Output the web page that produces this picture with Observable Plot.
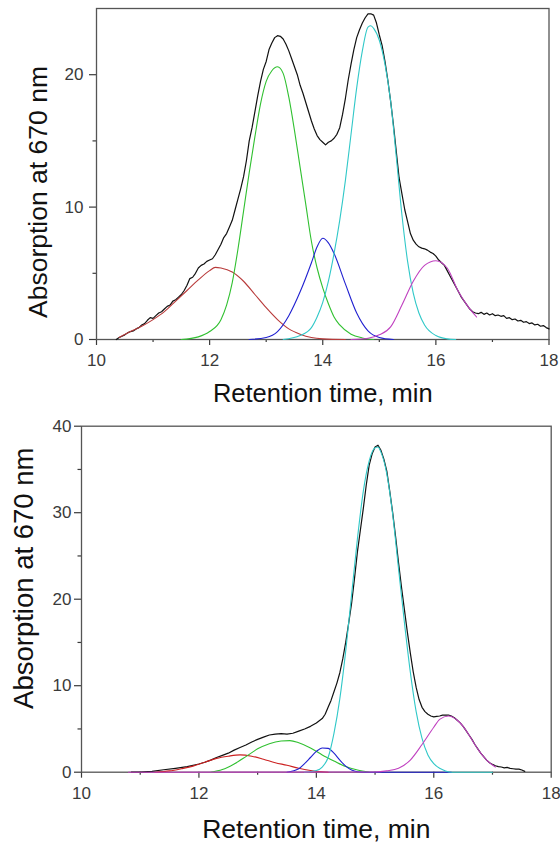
<!DOCTYPE html>
<html><head><meta charset="utf-8">
<script src="https://cdn.jsdelivr.net/npm/d3@7"></script>
<script src="https://cdn.jsdelivr.net/npm/@observablehq/plot@0.6"></script>
<style>
html,body{margin:0;padding:0;background:#fff;}
#chart svg{display:block;}
</style></head><body><div id="chart"></div>
<script>
// ---------- text & ticks ----------
const xTitle = "Retention time, min";
const yTitle = "Absorption at 670 nm";
const xTicks = [10, 12, 14, 16, 18];
const xMinor = [11, 13, 15, 17];
const topYTicks = [0, 10, 20];
const topYMinor = [5, 15];
const botYTicks = [0, 10, 20, 30, 40];
const botYMinor = [5, 15, 25, 35];

// ---------- top panel data: [time (min), absorbance] ----------
const topBlack = [[10.35,0],[10.4,0.15],[10.45,0.25],[10.5,0.35],[10.55,0.5],[10.6,0.6],[10.65,0.65],[10.7,0.8],[10.75,0.9],[10.8,1.1],[10.85,1.2],[10.9,1.45],[10.95,1.65],[11.0,1.6],[11.05,1.8],[11.1,2.0],[11.15,2.1],[11.2,2.3],[11.25,2.5],[11.3,2.6],[11.35,2.9],[11.4,3.0],[11.45,3.2],[11.5,3.4],[11.55,3.7],[11.6,4.1],[11.65,4.6],[11.7,4.7],[11.75,5.0],[11.8,5.4],[11.85,5.6],[11.9,5.7],[11.95,5.9],[12.0,6.0],[12.05,6.1],[12.1,6.4],[12.15,6.8],[12.2,7.2],[12.25,7.7],[12.3,8.0],[12.35,8.5],[12.4,9.0],[12.45,9.8],[12.5,10.6],[12.55,11.4],[12.6,12.3],[12.65,13.5],[12.7,15.0],[12.75,16.0],[12.8,17.2],[12.85,18.4],[12.9,19.5],[12.95,20.4],[13.0,21.0],[13.05,21.9],[13.1,22.4],[13.15,22.8],[13.2,22.95],[13.25,22.9],[13.3,22.7],[13.35,22.3],[13.4,21.8],[13.45,21.2],[13.5,20.6],[13.55,20.0],[13.6,19.2],[13.65,18.6],[13.7,17.9],[13.75,17.2],[13.8,16.5],[13.85,15.9],[13.9,15.4],[13.95,15.1],[14.0,14.9],[14.05,14.7],[14.1,14.9],[14.15,15.0],[14.2,15.2],[14.25,15.5],[14.3,16.0],[14.35,17.0],[14.4,18.2],[14.45,19.6],[14.5,20.8],[14.55,21.9],[14.6,22.8],[14.65,23.4],[14.7,23.9],[14.75,24.3],[14.8,24.6],[14.85,24.6],[14.9,24.5],[14.95,23.9],[15.0,23.0],[15.05,22.2],[15.1,21.0],[15.15,19.6],[15.2,18.0],[15.25,16.2],[15.3,14.2],[15.35,12.2],[15.4,11.0],[15.45,9.8],[15.5,8.9],[15.55,8.0],[15.6,7.5],[15.65,7.2],[15.7,7.0],[15.75,6.9],[15.8,6.85],[15.85,6.75],[15.9,6.6],[15.95,6.5],[16.0,6.3],[16.05,6.0],[16.1,5.8],[16.15,5.6],[16.2,5.2],[16.25,4.8],[16.3,4.4],[16.35,4.0],[16.4,3.6],[16.45,3.2],[16.5,2.9],[16.55,2.6],[16.6,2.3],[16.65,2.1],[16.7,2.0],[16.75,1.95],[16.8,2.05],[16.85,1.9],[16.9,2.0],[16.95,1.85],[17.0,1.95],[17.05,1.8],[17.1,1.85],[17.15,1.75],[17.2,1.8],[17.25,1.6],[17.3,1.65],[17.35,1.5],[17.4,1.55],[17.45,1.4],[17.5,1.45],[17.55,1.3],[17.6,1.35],[17.65,1.2],[17.7,1.25],[17.75,1.1],[17.8,1.15],[17.85,1.0],[17.9,1.05],[17.95,0.9],[18.0,0.8]];
const topRed = [[10.4,0.15],[10.6,0.6],[10.8,1.0],[11.0,1.5],[11.2,2.1],[11.4,2.9],[11.6,3.7],[11.8,4.5],[12.0,5.2],[12.1,5.45],[12.2,5.4],[12.4,5.1],[12.6,4.4],[12.8,3.4],[13.0,2.4],[13.2,1.5],[13.4,0.8],[13.6,0.4],[13.8,0.15],[14.0,0.05],[14.4,0]];
const topGreen = [[11.5,0],[11.8,0.2],[12.0,0.6],[12.2,1.5],[12.3,2.6],[12.4,4.3],[12.5,6.8],[12.6,9.7],[12.7,12.6],[12.8,15.3],[12.9,17.8],[13.0,19.5],[13.1,20.3],[13.2,20.6],[13.3,20.1],[13.4,18.3],[13.5,15.8],[13.6,13.0],[13.7,10.2],[13.8,7.4],[13.9,5.4],[14.0,3.9],[14.1,2.7],[14.2,1.7],[14.3,1.1],[14.5,0.4],[14.7,0.12],[14.9,0]];
const topBlue = [[12.7,0],[13.0,0.15],[13.2,0.6],[13.4,1.8],[13.6,3.6],[13.8,5.8],[13.9,7.0],[14.0,7.65],[14.1,7.3],[14.2,6.5],[14.4,4.2],[14.6,2.0],[14.8,0.65],[15.0,0.15],[15.25,0]];
const topCyan = [[13.3,0],[13.6,0.3],[13.8,0.9],[13.9,1.7],[14.0,2.8],[14.1,4.4],[14.2,6.5],[14.3,9.0],[14.4,12.0],[14.5,15.5],[14.6,19.0],[14.7,21.8],[14.8,23.6],[14.85,23.7],[14.9,23.5],[15.0,22.6],[15.1,20.8],[15.2,18.0],[15.3,13.8],[15.4,9.4],[15.5,5.9],[15.6,3.5],[15.7,2.0],[15.8,1.1],[16.0,0.3],[16.2,0.05],[16.35,0]];
const topMagenta = [[14.5,0],[14.8,0.1],[15.0,0.35],[15.2,0.95],[15.4,2.6],[15.6,4.4],[15.8,5.6],[16.0,5.95],[16.2,5.4],[16.4,3.6],[16.55,2.6],[16.72,1.7]];

// ---------- bottom panel data ----------
const botBlack = [[10.85,0],[11.0,0.02],[11.2,0.1],[11.4,0.28],[11.6,0.45],[11.8,0.65],[12.0,0.95],[12.1,1.15],[12.2,1.4],[12.3,1.7],[12.4,1.95],[12.5,2.2],[12.6,2.55],[12.7,2.85],[12.8,3.15],[12.9,3.5],[13.0,3.8],[13.1,4.05],[13.2,4.3],[13.3,4.4],[13.4,4.45],[13.5,4.4],[13.6,4.5],[13.7,4.75],[13.8,5.0],[13.9,5.3],[14.0,5.7],[14.1,6.2],[14.15,6.7],[14.2,7.5],[14.25,8.3],[14.3,9.3],[14.35,10.3],[14.4,11.5],[14.45,13.1],[14.5,15.0],[14.55,17.2],[14.6,19.5],[14.65,22.4],[14.7,25.5],[14.75,28.0],[14.8,30.5],[14.85,33.2],[14.9,35.5],[14.95,36.8],[15.0,37.6],[15.05,37.8],[15.1,37.2],[15.15,36.2],[15.2,34.8],[15.25,32.5],[15.3,30.0],[15.35,27.2],[15.4,24.2],[15.45,21.4],[15.5,18.8],[15.55,16.2],[15.6,13.8],[15.65,11.6],[15.7,9.8],[15.75,8.4],[15.8,7.5],[15.85,7.0],[15.9,6.7],[15.95,6.5],[16.0,6.4],[16.05,6.45],[16.1,6.5],[16.15,6.6],[16.2,6.6],[16.25,6.6],[16.3,6.5],[16.35,6.3],[16.4,6.0],[16.45,5.7],[16.5,5.3],[16.55,4.8],[16.6,4.3],[16.65,3.8],[16.7,3.2],[16.75,2.7],[16.8,2.2],[16.85,1.8],[16.9,1.4],[16.95,1.1],[17.0,0.9],[17.05,0.75],[17.1,0.65],[17.15,0.6],[17.2,0.5],[17.25,0.55],[17.3,0.45],[17.35,0.4],[17.4,0.35],[17.45,0.35],[17.5,0.25],[17.55,0.1]];
const botRed = [[11.25,0],[11.5,0.15],[11.7,0.4],[11.9,0.7],[12.1,1.15],[12.3,1.6],[12.5,1.85],[12.7,2.0],[12.9,1.85],[13.1,1.5],[13.3,1.1],[13.5,0.8],[13.7,0.45],[13.9,0.2],[14.1,0.05],[14.2,0]];
const botGreen = [[12.2,0],[12.4,0.3],[12.6,0.95],[12.8,1.8],[13.0,2.7],[13.2,3.3],[13.4,3.6],[13.55,3.65],[13.7,3.4],[13.9,2.8],[14.1,2.0],[14.3,1.3],[14.5,0.65],[14.7,0.25],[14.9,0]];
const botBlue = [[13.5,0],[13.7,0.4],[13.8,1.0],[13.9,1.7],[14.0,2.4],[14.1,2.8],[14.2,2.75],[14.3,2.2],[14.4,1.4],[14.5,0.7],[14.6,0.25],[14.7,0.05],[14.8,0],[16.3,0]];
const botCyan = [[13.8,0],[14.0,0.2],[14.1,0.6],[14.2,1.7],[14.3,4.5],[14.4,8.5],[14.5,14.0],[14.6,20.5],[14.7,27.0],[14.8,32.5],[14.9,36.0],[15.0,37.5],[15.05,37.6],[15.1,37.0],[15.2,34.5],[15.3,29.8],[15.4,23.5],[15.5,17.3],[15.6,11.6],[15.7,7.0],[15.8,3.9],[15.9,2.0],[16.0,1.0],[16.1,0.45],[16.2,0.15],[16.3,0],[17.0,0]];
const botMagenta = [[10.8,0],[15.0,0.02],[15.2,0.15],[15.4,0.45],[15.6,1.4],[15.8,3.2],[16.0,5.2],[16.1,6.1],[16.25,6.5],[16.4,6.0],[16.5,5.3],[16.6,4.3],[16.7,3.2],[16.8,2.2],[16.9,1.4],[17.05,0.6]];

const colRed = "#cc2020", colRedTop = "#b83a3a", colGreen = "#30c030", colBlue = "#2020d0", colCyan = "#30c8c8", colMagenta = "#c040c0";

const font = "'Liberation Sans', Arial, Helvetica, sans-serif";

function panel(cfg) {
  const comps = cfg.series.map(([data, color]) =>
    Plot.line(data, {x: d => d[0], y: d => d[1], stroke: color, strokeWidth: 1.1, curve: "monotone-x"}));
  return Plot.plot({
    width: 560, height: cfg.height,
    marginTop: cfg.mt, marginBottom: cfg.mb, marginLeft: cfg.ml, marginRight: cfg.mr,
    x: {domain: [10, 18]},
    y: {domain: cfg.yDomain},
    style: {fontFamily: font, background: "#fff", overflow: "visible"},
    marks: [
      Plot.axisX(xTicks, {tickSize: 6, tickPadding: cfg.xPad, fontSize: 17, color: "#3a3a3a", strokeWidth: 1.2, tickFormat: d => d, label: null}),
      Plot.axisX(xMinor, {tickSize: 3, fontSize: 17, color: "#3a3a3a", strokeWidth: 1.2, tickFormat: () => "", label: null}),
      Plot.axisY(cfg.yTicks, {tickSize: 7, tickPadding: cfg.yPad, fontSize: 17, color: "#3a3a3a", strokeWidth: 1.2, tickFormat: d => d, label: null}),
      Plot.axisY(cfg.yMinor, {tickSize: 3.5, fontSize: 17, color: "#3a3a3a", strokeWidth: 1.2, tickFormat: () => "", label: null}),
      Plot.frame({stroke: "#555", strokeWidth: 1.3}),
      Plot.line(cfg.black, {x: d => d[0], y: d => d[1], stroke: "#111", strokeWidth: 1.2}),
      ...comps,
      Plot.text([xTitle], {text: d => d, frameAnchor: "bottom", dy: cfg.xTitleDy, fontSize: cfg.xTitleSize, fill: "#111", textAnchor: "middle", lineAnchor: "middle"}),
      Plot.text([yTitle], {text: d => d, frameAnchor: "left", dx: cfg.yTitleDx, dy: cfg.yTitleDy, rotate: -90, fontSize: cfg.yTitleSize, fill: "#111", textAnchor: "middle", lineAnchor: "middle"})
    ]
  });
}

const topPanel = panel({
  height: 412, mt: 8, mb: 73, ml: 96, mr: 11.5,
  yDomain: [0, 25], yTicks: topYTicks, yMinor: topYMinor,
  xPad: 8, yPad: 6,
  black: topBlack,
  series: [[topRed, colRedTop], [topGreen, colGreen], [topBlue, colBlue], [topCyan, colCyan], [topMagenta, colMagenta]],
  xTitleDy: 54.5, xTitleSize: 25.5, yTitleDx: -58, yTitleDy: 18, yTitleSize: 26.5
});
const bottomPanel = panel({
  height: 434, mt: 13.7, mb: 74.3, ml: 81, mr: 9.3,
  yDomain: [0, 40], yTicks: botYTicks, yMinor: botYMinor,
  xPad: 9, yPad: 3,
  black: botBlack,
  series: [[botRed, colRed], [botGreen, colGreen], [botBlue, colBlue], [botCyan, colCyan], [botMagenta, colMagenta]],
  xTitleDy: 57.3, xTitleSize: 26.5, yTitleDx: -57.5, yTitleDy: -21, yTitleSize: 27.5
});
const el = document.getElementById("chart");
el.appendChild(topPanel);
el.appendChild(bottomPanel);
</script></body></html>
